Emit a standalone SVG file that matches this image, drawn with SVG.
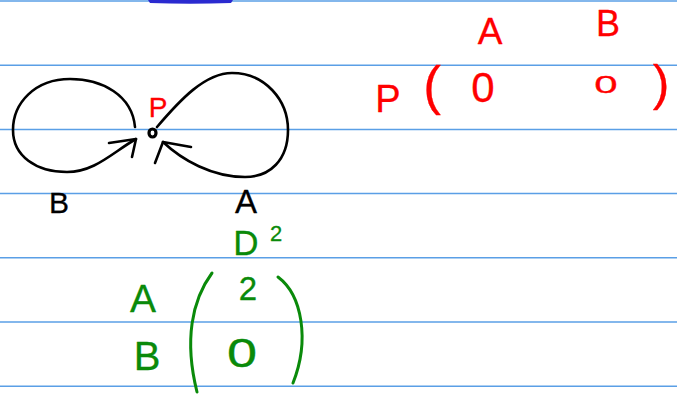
<svg xmlns="http://www.w3.org/2000/svg" width="677" height="405" viewBox="0 0 677 405">
<style>
.rule{stroke:#5a9fe6;stroke-width:1.5}
.ink{fill:none;stroke:#000;stroke-width:2.6;stroke-linecap:round;stroke-linejoin:round}
.grn{fill:none;stroke:#0a8a0a;stroke-width:3;stroke-linecap:round}
text{font-family:"Liberation Sans","DejaVu Sans",sans-serif;text-anchor:middle;stroke-width:0.3;stroke-linejoin:round}
.r{fill:#f00;stroke:#f00}
.g{fill:#0a8a0a;stroke:#0a8a0a}
.k{fill:#000;stroke:#000}
</style>
<rect width="677" height="405" fill="#fff"/>
<g id="ruling">
<line class="rule" x1="0" y1="1" x2="677" y2="1"/>
<line class="rule" x1="0" y1="65.2" x2="677" y2="65.2"/>
<line class="rule" x1="0" y1="129.4" x2="677" y2="129.4"/>
<line class="rule" x1="0" y1="193.6" x2="677" y2="193.6"/>
<line class="rule" x1="0" y1="257.8" x2="677" y2="257.8"/>
<line class="rule" x1="0" y1="322" x2="677" y2="322"/>
<line class="rule" x1="0" y1="386.2" x2="677" y2="386.2"/>
<path d="M148,0 L233,0 L231,3 Q190,4.5 150,3 Z" fill="#2a2ad0"/>
</g>
<g id="connectors">
<path class="ink" d="M135,127 C132,95 102,79 70,79 C35,79 13,103 13,130 C13,156 36,172 67,172 C95,172 113,152 136,139"/>
<path class="ink" d="M109,143 L136,139 L132,157"/>
<path class="ink" d="M157,127 C180,100 205,73 232,73 C265,73 288,100 288,130 C288,160 270,177 245,177 C212,177 182,160 163,142"/>
<path class="ink" d="M191,147 L163,142 L155,163"/>
</g>
<g id="node-P">
<ellipse cx="152.5" cy="133" rx="3.5" ry="4" fill="none" stroke="#000" stroke-width="3.2"/>
<text class="r" x="158" y="117" font-size="28">P</text>
</g>
<g id="label-B">
<text class="k" x="59" y="213" font-size="30">B</text>
</g>
<g id="label-A">
<text class="k" x="246" y="213" font-size="33">A</text>
</g>
<g id="matrix-P">
<text class="r" x="490" y="44" font-size="37">A</text>
<text class="r" x="608" y="36" font-size="36">B</text>
<text class="r" x="388" y="112" font-size="38">P</text>
<text class="r" x="432" y="104" font-size="53">(</text>
<text class="r" x="483" y="102" font-size="42">0</text>
<text class="r" x="606" y="93" font-size="28" transform="translate(606,93) scale(1.5,0.85) translate(-606,-93)">0</text>
<text class="r" x="661" y="100" font-size="50">)</text>
</g>
<g id="matrix-D2">
<text class="g" x="246" y="255" font-size="35">D</text>
<text class="g" x="276" y="241" font-size="22">2</text>
<text class="g" x="143" y="312" font-size="39">A</text>
<text class="g" x="147" y="370" font-size="40">B</text>
<text class="g" x="248" y="300" font-size="33">2</text>
<text class="g" x="242" y="367" font-size="40" transform="translate(242,367) scale(1.35,1) translate(-242,-367)">0</text>
<path class="grn" d="M212,273 C192,300 184,340 197,392"/>
<path class="grn" d="M278,277 C302,295 310,340 293,383"/>
</g>
</svg>
